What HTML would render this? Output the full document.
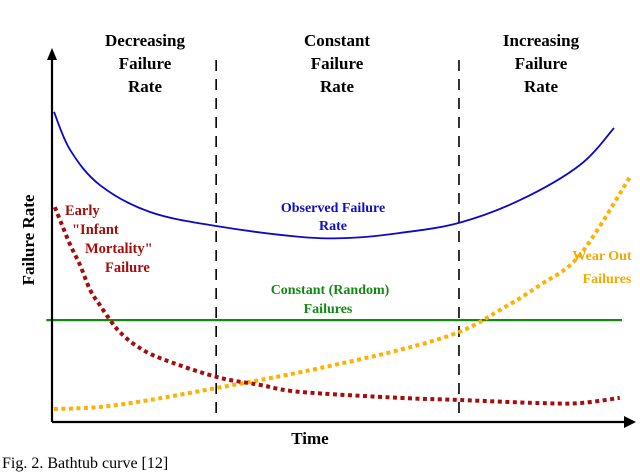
<!DOCTYPE html>
<html><head><meta charset="utf-8"><style>
html,body{margin:0;padding:0;background:#fff;}
svg{display:block;font-family:"Liberation Serif",serif;}
</style></head><body>
<svg id="chart" width="640" height="475" viewBox="0 0 640 475">
<g font-weight="bold" font-size="17" text-anchor="middle" fill="#000">
<text x="145" y="46">Decreasing</text><text x="145" y="69">Failure</text><text x="145" y="92">Rate</text>
<text x="337" y="46">Constant</text><text x="337" y="69">Failure</text><text x="337" y="92">Rate</text>
<text x="541" y="46">Increasing</text><text x="541" y="69">Failure</text><text x="541" y="92">Rate</text>
</g>
<g id="dividers"></g>
<g id="series"></g>
<g stroke="#000" stroke-width="2.2">
<line x1="52" y1="422" x2="52" y2="58"/>
<line x1="52" y1="422" x2="628" y2="422"/>
</g>
<polygon points="52,48 47,60 57,60" fill="#000"/>
<polygon points="636,422 624,416 624,428" fill="#000"/>
<text x="310" y="444" font-size="17" font-weight="bold" text-anchor="middle">Time</text>
<text transform="translate(34,240) rotate(-90)" font-size="17" font-weight="bold" text-anchor="middle">Failure Rate</text>
<g font-size="14.5" font-weight="bold" text-anchor="start">
<g fill="#a50d0d">
<text x="65" y="215">Early</text><text x="72" y="234">"Infant</text>
<text x="85" y="253">Mortality"</text><text x="105" y="272">Failure</text></g>
</g>
<g font-size="14" font-weight="bold" text-anchor="middle">
<g fill="#1010c0">
<text x="333" y="212">Observed Failure</text><text x="333" y="230">Rate</text></g>
<g fill="#138a13">
<text x="330" y="294">Constant (Random)</text><text x="328" y="313">Failures</text></g>
<g fill="#f5a800">
<text x="602" y="260">Wear Out</text><text x="607" y="283">Failures</text></g>
</g>
<text x="2" y="468" font-size="16">Fig. 2.  Bathtub curve [12]</text>
</svg>
<script>
const dividerTimes=[28.8,71.4];
const observedT=[0.35,3.2,8.4,17.2,28.8,43.5,52.3,61,71.4,82.1,92.6,98.6];
const observedV=[88.6,77.7,67.7,60,56,52.9,52.6,54,56.9,63.4,73.4,84];
const earlyT=[0.5,1.75,3.2,4.9,6.7,8.4,10.2,11.9,14.6,18.9,28.8,36.5,43.5,61,71.4,85.6,92.6,99.6];
const earlyV=[61.4,56.3,50.6,44.9,37.7,33.4,29.1,25.7,22,18.3,12.9,10.6,8.6,6.9,6.3,5.4,5.4,6.9];
const wearT=[0.35,8.4,17.2,28.8,36.5,47,61,71.4,78.6,85.6,92.6,101.4];
const wearV=[3.7,4.3,6.3,9.7,12,15.4,20.6,25.7,32,39.1,47.7,70];
const constantT=[-1,100];
const constantV=[29.1,29.1];
const NS='http://www.w3.org/2000/svg';
function sx(t){return 52+t*5.7;}
function sy(v){return 422-v*3.5;}
function path(T,V){
 const p=T.map((t,i)=>[sx(t),sy(V[i])]);
 let d='M'+p[0][0]+','+p[0][1];
 for(let i=0;i<p.length-1;i++){
  const p0=p[Math.max(i-1,0)],p1=p[i],p2=p[i+1],p3=p[Math.min(i+2,p.length-1)];
  const c1=[p1[0]+(p2[0]-p0[0])/6,p1[1]+(p2[1]-p0[1])/6];
  const c2=[p2[0]-(p3[0]-p1[0])/6,p2[1]-(p3[1]-p1[1])/6];
  d+=' C'+c1.join(',')+' '+c2.join(',')+' '+p2.join(',');
 }
 return d;
}
const g=document.getElementById('series');
function add(T,V,color,w,dash,name){
 const el=document.createElementNS(NS,'path');
 el.setAttribute('d',path(T,V));
 el.setAttribute('fill','none');
 el.setAttribute('stroke',color);
 el.setAttribute('stroke-width',w);
 if(dash)el.setAttribute('stroke-dasharray',dash);
 
 
 g.appendChild(el);
}
add(constantT,constantV,'#138a13',2.2,null,'constant-failures-line');
add(wearT,wearV,'#ffb000',4,'4 3.5','wear-out-curve');
add(earlyT,earlyV,'#a50d0d',4,'4 3.5','early-failure-curve');
add(observedT,observedV,'#0a0ac8',1.8,null,'observed-failure-curve');
const dg=document.getElementById('dividers');
dividerTimes.forEach(t=>{
 const l=document.createElementNS(NS,'line');
 l.setAttribute('x1',sx(t));l.setAttribute('x2',sx(t));
 l.setAttribute('y1',60);l.setAttribute('y2',422);
 l.setAttribute('stroke','#000');l.setAttribute('stroke-width',1.6);
 l.setAttribute('stroke-dasharray','11 8');
 
 
 dg.appendChild(l);
});
</script>
</body></html>
